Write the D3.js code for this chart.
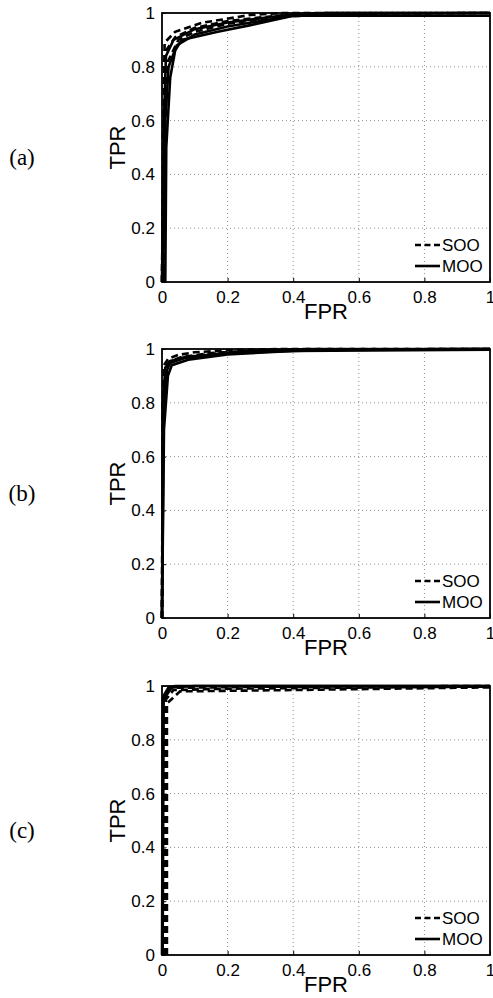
<!DOCTYPE html>
<html><head><meta charset="utf-8">
<script src="https://cdn.jsdelivr.net/npm/d3@7"></script>
<style>body{margin:0;background:#fff}svg{display:block}</style>
</head><body>
<script>
// ---- data ----
const panelLabels = ["(a)", "(b)", "(c)"];
const tickValues = [0, 0.2, 0.4, 0.6, 0.8, 1];
const tickLabels = ["0", "0.2", "0.4", "0.6", "0.8", "1"];
const seriesNames = ["SOO", "MOO"];

const sooA = [
  [[0,0],[0.004,0.6],[0.008,0.89],[0.04,0.93],[0.12,0.963],[0.27,0.993],[0.37,1],[1,1]],
  [[0,0],[0.006,0.6],[0.012,0.86],[0.04,0.91],[0.1,0.945],[0.2,0.97],[0.35,0.99],[0.5,1],[1,1]],
  [[0.005,0],[0.01,0.6],[0.018,0.82],[0.05,0.9],[0.1,0.93],[0.2,0.96],[0.35,0.985],[0.55,0.997],[1,1]]
];
const mooA = [
  [[0,0],[0.006,0.6],[0.012,0.84],[0.035,0.9],[0.1,0.94],[0.2,0.965],[0.4,0.995],[0.5,1],[1,1]],
  [[0.003,0],[0.01,0.6],[0.02,0.8],[0.045,0.88],[0.1,0.92],[0.2,0.95],[0.4,0.99],[0.55,0.997],[1,1]],
  [[0.01,0],[0.013,0.5],[0.025,0.76],[0.04,0.86],[0.06,0.9],[0.17,0.93],[0.27,0.955],[0.4,0.99],[1,0.99]]
];
const sooB = [
  [[0,0],[0.002,0.8],[0.006,0.94],[0.02,0.965],[0.05,0.978],[0.1,0.988],[0.2,0.995],[0.35,1],[1,1]],
  [[0,0],[0.003,0.8],[0.01,0.935],[0.025,0.955],[0.06,0.97],[0.15,0.985],[0.3,0.995],[0.45,1],[1,1]],
  [[0,0],[0.004,0.78],[0.012,0.93],[0.03,0.955],[0.1,0.975],[0.2,0.988],[0.4,0.998],[1,1]]
];
const mooB = [
  [[0,0],[0.003,0.8],[0.01,0.93],[0.025,0.955],[0.07,0.97],[0.2,0.985],[0.4,0.997],[1,1]],
  [[0,0],[0.005,0.75],[0.015,0.92],[0.024,0.948],[0.065,0.965],[0.2,0.985],[0.4,0.993],[0.6,0.998],[1,1]],
  [[0,0],[0.006,0.7],[0.018,0.9],[0.03,0.94],[0.08,0.96],[0.2,0.98],[0.4,0.993],[1,0.997]]
];
const sooC = [
  [[0.015,0],[0.015,0.935],[0.055,0.98],[0.4,0.985],[1,0.995]],
  [[0.012,0],[0.012,0.95],[0.035,0.985],[0.2,0.99],[1,0.998]],
  [[0.008,0],[0.01,0.97],[0.03,0.993],[0.3,0.997],[1,1]]
];
const mooC = [
  [[0,0],[0.003,0.96],[0.02,0.995],[0.04,1],[1,1]],
  [[0.002,0],[0.005,0.95],[0.03,0.995],[0.1,1],[1,1]]
];
const panelSOO = [sooA, sooB, sooC];
const panelMOO = [mooA, mooB, mooC];

// ---- layout ----
const W = 493, H = 998;
const left = 162, right = 490;
const tops = [13, 349, 686];
const plotH = 269;

const svg = d3.select("body").append("svg").attr("width", W).attr("height", H);
const x = d3.scaleLinear().domain([0, 1]).range([left, right]);
const font = "'Liberation Sans', Arial, Helvetica, sans-serif";

panelLabels.forEach((lab, i) => {
  const top = tops[i], bottom = top + plotH;
  const y = d3.scaleLinear().domain([0, 1]).range([bottom, top]);
  const g = svg.append("g");

  // grid
  const gridVals = tickValues.slice(1, -1);
  g.selectAll(".gx").data(gridVals).join("line")
    .attr("x1", d => x(d)).attr("x2", d => x(d)).attr("y1", top).attr("y2", bottom)
    .attr("stroke", "#8a8a8a").attr("stroke-width", 1).attr("stroke-dasharray", "1,3");
  g.selectAll(".gy").data(gridVals).join("line")
    .attr("y1", d => y(d)).attr("y2", d => y(d)).attr("x1", left).attr("x2", right)
    .attr("stroke", "#8a8a8a").attr("stroke-width", 1).attr("stroke-dasharray", "1,3");

  // axes via d3
  const ax = g.append("g").attr("transform", `translate(0,${bottom})`)
    .call(d3.axisBottom(x).tickValues(tickValues).tickFormat((d, k) => tickLabels[k]).tickSize(-4).tickPadding(9));
  const ay = g.append("g").attr("transform", `translate(${left},0)`)
    .call(d3.axisLeft(y).tickValues(tickValues).tickFormat((d, k) => tickLabels[k]).tickSize(-4).tickPadding(7));
  [ax, ay].forEach(a => {
    a.select(".domain").remove();
    a.selectAll("line").attr("stroke", "#000");
    a.selectAll("text").attr("font-family", font).attr("font-size", 17).attr("fill", "#000");
  });

  // curves
  const line = d3.line().x(d => x(d[0])).y(d => y(d[1]));
  g.selectAll(".soo").data(panelSOO[i]).join("path")
    .attr("d", line).attr("fill", "none").attr("stroke", "#000")
    .attr("stroke-width", 2.6).attr("stroke-dasharray", "7,4");
  g.selectAll(".moo").data(panelMOO[i]).join("path")
    .attr("d", line).attr("fill", "none").attr("stroke", "#000")
    .attr("stroke-width", 2.6);

  // frame
  g.append("rect").attr("x", left).attr("y", top).attr("width", right - left).attr("height", plotH)
    .attr("fill", "none").attr("stroke", "#000").attr("stroke-width", 1.8);

  // legend
  seriesNames.forEach((nm, k) => {
    const ly = bottom - 37 + k * 21;
    g.append("line").attr("x1", 415).attr("x2", 440).attr("y1", ly).attr("y2", ly)
      .attr("stroke", "#000").attr("stroke-width", 2.6)
      .attr("stroke-dasharray", k === 0 ? "6,3.5" : null);
    g.append("text").attr("x", 442).attr("y", ly + 6).text(nm)
      .attr("font-family", font).attr("font-size", 17);
  });

  // axis titles
  g.append("text").attr("x", (left + right) / 2).attr("y", bottom + 37).attr("text-anchor", "middle")
    .attr("font-family", font).attr("font-size", 22).text("FPR");
  g.append("text").attr("transform", `translate(125,${(top + bottom) / 2}) rotate(-90)`)
    .attr("text-anchor", "middle").attr("font-family", font).attr("font-size", 22).text("TPR");

  // panel label
  g.append("text").attr("x", 22).attr("y", (top + bottom) / 2 + 17).attr("text-anchor", "middle")
    .attr("font-family", "'Liberation Serif', 'Times New Roman', serif").attr("font-size", 23).text(lab);
});
</script>
</body></html>
